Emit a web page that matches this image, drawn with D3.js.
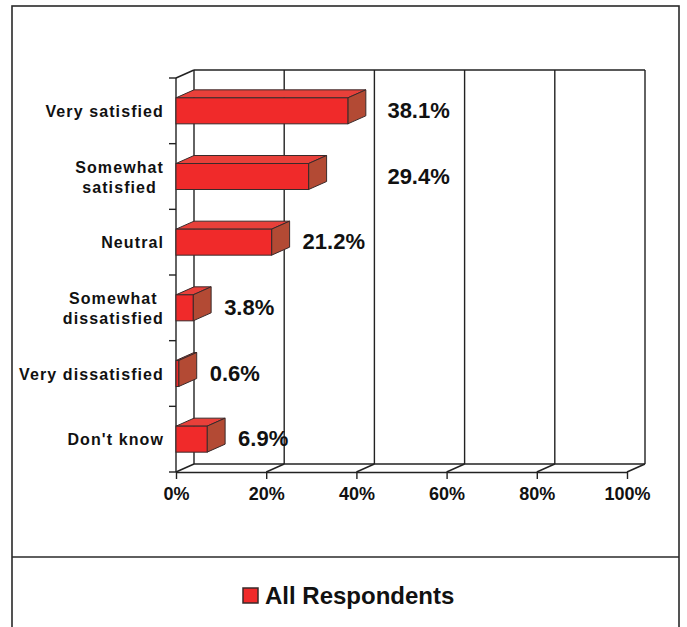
<!DOCTYPE html>
<html>
<head>
<meta charset="utf-8">
<script src="https://cdn.jsdelivr.net/npm/d3@7"></script>
<style>
  body { margin: 0; background: #fff; }
  svg { display: block; font-family: "Liberation Sans", Arial, sans-serif; }
</style>
</head>
<body>
<div id="chart"></div>
<script>
// data
var categories = ["Very satisfied", "Somewhat satisfied", "Neutral",
  "Somewhat dissatisfied", "Very dissatisfied", "Don't know"];
var tickLabels = [["Very satisfied"], ["Somewhat", "satisfied"], ["Neutral"],
  ["Somewhat", "dissatisfied"], ["Very dissatisfied"], ["Don't know"]];
var values = [38.1, 29.4, 21.2, 3.8, 0.6, 6.9];
var xTicks = [0, 20, 40, 60, 80, 100];
var seriesName = "All Respondents";

var svgWidth = 687, svgHeight = 627;
var depth = { dx: 18, dy: -8 };   // 3d offset of back wall

var svg = d3.select("#chart").append("svg")
  .attr("width", svgWidth)
  .attr("height", svgHeight);

// outer frame + legend separator
svg.append("rect")
  .attr("x", 12).attr("y", 6)
  .attr("width", 667).attr("height", 660)
  .attr("fill", "none").attr("stroke", "#2a2a2a").attr("stroke-width", 1.6);
svg.append("line")
  .attr("x1", 12).attr("x2", 679).attr("y1", 557).attr("y2", 557)
  .attr("stroke", "#2a2a2a").attr("stroke-width", 1.6);

// scales (front plane)
var x = d3.scaleLinear().domain([0, 100]).range([176, 627]);
var y = d3.scaleBand().domain(categories).range([78, 472]).padding(0);
var barH = 26;
var lineCol = "#222";

var grid = svg.append("g").attr("stroke", lineCol).attr("stroke-width", 1.4).attr("fill", "none");
var y0 = y.range()[0], y1 = y.range()[1];

// back wall
grid.append("line")
  .attr("x1", x(0) + depth.dx).attr("x2", x(100) + depth.dx)
  .attr("y1", y0 + depth.dy).attr("y2", y0 + depth.dy);
grid.append("line")
  .attr("x1", x(0) + depth.dx).attr("x2", x(100) + depth.dx)
  .attr("y1", y1 + depth.dy).attr("y2", y1 + depth.dy);
xTicks.forEach(function(t) {
  // vertical gridline on back wall
  grid.append("line")
    .attr("x1", x(t) + depth.dx).attr("x2", x(t) + depth.dx)
    .attr("y1", y0 + depth.dy).attr("y2", y1 + depth.dy);
  // floor diagonals
  grid.append("line")
    .attr("x1", x(t)).attr("x2", x(t) + depth.dx)
    .attr("y1", y1).attr("y2", y1 + depth.dy);
});
// side wall top diagonal + front left axis
grid.append("line")
  .attr("x1", x(0)).attr("x2", x(0) + depth.dx)
  .attr("y1", y0).attr("y2", y0 + depth.dy);
grid.append("line")
  .attr("x1", x(0)).attr("x2", x(0))
  .attr("y1", y0).attr("y2", y1);

// category boundary ticks
var bounds = categories.map(function(c) { return y(c); }).concat([y1]);
grid.selectAll(".ytick").data(bounds).enter().append("line")
  .attr("class", "ytick")
  .attr("x1", x(0) - 7).attr("x2", x(0))
  .attr("y1", function(d) { return d; }).attr("y2", function(d) { return d; });

// x axis along the front floor edge
var xAxis = svg.append("g")
  .attr("transform", "translate(0," + y1 + ")")
  .call(d3.axisBottom(x).tickValues(xTicks).tickSize(7).tickSizeOuter(0)
    .tickPadding(8).tickFormat(function(d) { return d + "%"; }));
xAxis.select(".domain").attr("stroke", lineCol).attr("stroke-width", 1.4);
xAxis.selectAll(".tick line").attr("stroke", lineCol).attr("stroke-width", 1.4);
xAxis.selectAll(".tick text")
  .attr("font-size", "18px").attr("font-weight", "bold").attr("fill", "#111")
  .attr("font-family", "Liberation Sans, Arial, sans-serif");

// bars
var bars = svg.append("g").selectAll("g").data(values).enter().append("g");
bars.each(function(v, i) {
  var g = d3.select(this);
  var cy = y(categories[i]) + y.bandwidth() / 2;
  var bx0 = x(0), bx1 = x(v), by0 = cy - barH / 2, by1 = cy + barH / 2;
  var dx = depth.dx, dy = depth.dy;
  g.append("polygon")
    .attr("points", [[bx0, by0], [bx1, by0], [bx1 + dx, by0 + dy], [bx0 + dx, by0 + dy]].join(" "))
    .attr("fill", "#e8403a").attr("stroke", "#3a2a2a").attr("stroke-width", 1);
  g.append("polygon")
    .attr("points", [[bx1, by0], [bx1 + dx, by0 + dy], [bx1 + dx, by1 + dy], [bx1, by1]].join(" "))
    .attr("fill", "#b34a34").attr("stroke", "#3a2a2a").attr("stroke-width", 1);
  g.append("rect")
    .attr("x", bx0).attr("y", by0).attr("width", bx1 - bx0).attr("height", barH)
    .attr("fill", "#f02a2a").attr("stroke", "#3a2a2a").attr("stroke-width", 1);

  // value label; long bars get pushed past the 40% gridline
  var lx = v > 25 ? x(40) + depth.dx + 13 : x(v) + depth.dx + 13;
  g.append("text")
    .attr("x", lx).attr("y", cy + 7)
    .attr("font-size", "22px").attr("font-weight", "bold").attr("fill", "#111")
    .text(v.toFixed(1) + "%");
});

// category labels (multi-line ones centered as a block)
var labelRight = 164;
tickLabels.forEach(function(lines, i) {
  var cy = y(categories[i]) + y.bandwidth() / 2;
  var texts = lines.map(function(l, j) {
    return svg.append("text")
      .attr("y", cy + 6 + (j - (lines.length - 1) / 2) * 20)
      .attr("font-size", "16px").attr("font-weight", "bold")
      .attr("letter-spacing", "1.1px").attr("fill", "#111")
      .text(l);
  });
  if (lines.length === 1) {
    texts[0].attr("x", labelRight).attr("text-anchor", "end");
  } else {
    var w = d3.max(texts, function(t) { return t.node().getComputedTextLength(); });
    texts.forEach(function(t) {
      t.attr("x", labelRight - w / 2).attr("text-anchor", "middle");
    });
  }
});

// legend
var legend = svg.append("g");
legend.append("rect")
  .attr("x", 243).attr("y", 588).attr("width", 15).attr("height", 15)
  .attr("fill", "#f02a2a").attr("stroke", "#3a2a2a").attr("stroke-width", 1.5);
legend.append("text")
  .attr("x", 265).attr("y", 604)
  .attr("font-size", "24px").attr("font-weight", "bold").attr("fill", "#111")
  .text(seriesName);
</script>
</body>
</html>
